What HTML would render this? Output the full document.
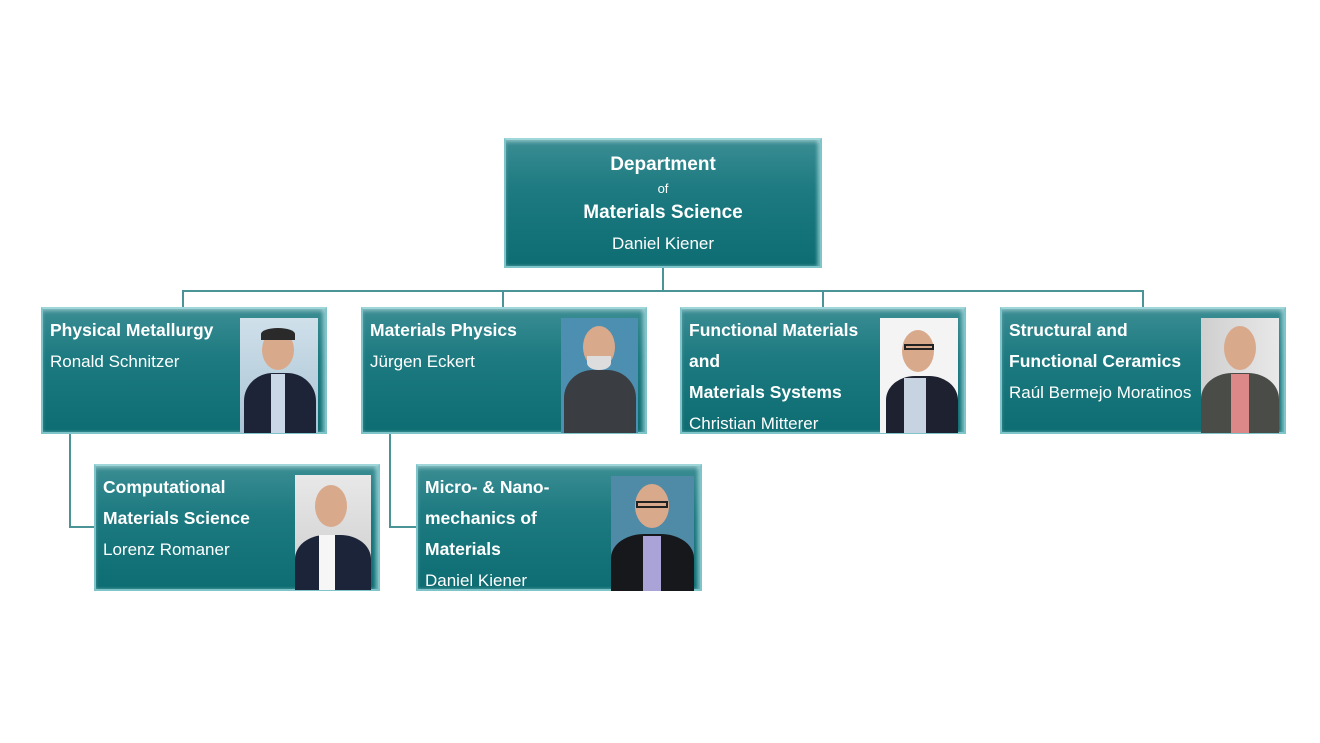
<!DOCTYPE html>
<html><head><meta charset="utf-8"><style>
body{margin:0;width:1320px;height:743px;background:#fff;position:relative;overflow:hidden;font-family:"Liberation Sans",sans-serif;}
.box{position:absolute;background:linear-gradient(180deg,#3a8d93 0%,#1c7a80 40%,#0d6d72 100%);border:2px solid #7fc4c8;border-top-color:#9fd6d9;box-sizing:border-box;box-shadow:inset 0 3px 3px rgba(255,255,255,.25),inset -3px 0 3px rgba(180,230,232,.5);color:#fff;}
.t{position:absolute;left:7px;font-weight:bold;font-size:17.5px;line-height:31px;white-space:nowrap;}
.n{font-weight:normal;font-size:17px;}
.ln{position:absolute;background:#4a9498;}
.ph{position:absolute;overflow:hidden;}
.head{position:absolute;border-radius:50%;background:#d9a98c;}
.body{position:absolute;border-radius:40% 40% 0 0;}
</style></head><body>
<div class="ln" style="left:662px;top:267px;width:2px;height:24px"></div>
<div class="ln" style="left:182px;top:290px;width:962px;height:2px"></div>
<div class="ln" style="left:182px;top:290px;width:2px;height:19px"></div>
<div class="ln" style="left:502px;top:290px;width:2px;height:19px"></div>
<div class="ln" style="left:822px;top:290px;width:2px;height:19px"></div>
<div class="ln" style="left:1142px;top:290px;width:2px;height:19px"></div>
<div class="ln" style="left:69px;top:433px;width:2px;height:95px"></div>
<div class="ln" style="left:69px;top:526px;width:27px;height:2px"></div>
<div class="ln" style="left:389px;top:433px;width:2px;height:95px"></div>
<div class="ln" style="left:389px;top:526px;width:29px;height:2px"></div>

<div class="box" style="left:504px;top:138px;width:318px;height:130px;text-align:center">
 <div style="position:absolute;left:0;right:0;top:14px;font-weight:bold;font-size:19px">Department</div>
 <div style="position:absolute;left:0;right:0;top:41px;font-size:13px">of</div>
 <div style="position:absolute;left:0;right:0;top:62px;font-weight:bold;font-size:19px">Materials Science</div>
 <div style="position:absolute;left:0;right:0;top:94px;font-size:17px">Daniel Kiener</div>
</div>

<div class="box" style="left:41px;top:307px;width:286px;height:127px">
 <div class="t" style="top:6px">Physical Metallurgy<br><span class="n">Ronald Schnitzer</span></div>
 <div class="ph" style="left:197px;top:9px;width:78px;height:115px;background:linear-gradient(#cfe0ea,#a9c3d4)">
  <div class="head" style="left:22px;top:12px;width:32px;height:40px"></div><div style="position:absolute;left:21px;top:10px;width:34px;height:12px;background:#2a2a2a;border-radius:50% 50% 0 0"></div>
  <div class="body" style="left:4px;top:55px;width:72px;height:70px;background:#1d2438"></div><div style="position:absolute;left:31px;top:56px;width:14px;height:60px;background:#c9d7e6"></div></div>
</div>
<div class="box" style="left:361px;top:307px;width:286px;height:127px">
 <div class="t" style="top:6px">Materials Physics<br><span class="n">Jürgen Eckert</span></div>
 <div class="ph" style="left:198px;top:9px;width:77px;height:115px;background:#4d8fb0">
  <div class="head" style="left:22px;top:8px;width:32px;height:42px"></div><div style="position:absolute;left:26px;top:38px;width:24px;height:14px;background:#ddd;border-radius:0 0 50% 50%"></div>
  <div class="body" style="left:3px;top:52px;width:72px;height:70px;background:#3a3d42"></div></div>
</div>
<div class="box" style="left:680px;top:307px;width:286px;height:127px">
 <div class="t" style="top:6px">Functional Materials<br>and<br>Materials Systems<br><span class="n" style="line-height:28px">Christian Mitterer</span></div>
 <div class="ph" style="left:198px;top:9px;width:78px;height:115px;background:#f4f4f4">
  <div class="head" style="left:22px;top:12px;width:32px;height:42px"></div><div style="position:absolute;left:24px;top:26px;width:30px;height:6px;border:2px solid #222;box-sizing:border-box"></div>
  <div class="body" style="left:6px;top:58px;width:72px;height:60px;background:#1e2230"></div><div style="position:absolute;left:24px;top:60px;width:22px;height:56px;background:#c7d3e0"></div></div>
</div>
<div class="box" style="left:1000px;top:307px;width:286px;height:127px">
 <div class="t" style="top:6px">Structural and<br>Functional Ceramics<br><span class="n">Raúl Bermejo Moratinos</span></div>
 <div class="ph" style="left:199px;top:9px;width:78px;height:115px;background:linear-gradient(90deg,#cfcfcf,#e8e8e8)">
  <div class="head" style="left:23px;top:8px;width:32px;height:44px"></div>
  <div class="body" style="left:0;top:55px;width:78px;height:65px;background:#4a4c48"></div><div style="position:absolute;left:30px;top:56px;width:18px;height:60px;background:#d88"></div></div>
</div>

<div class="box" style="left:94px;top:464px;width:286px;height:127px">
 <div class="t" style="top:6px">Computational<br>Materials Science<br><span class="n">Lorenz Romaner</span></div>
 <div class="ph" style="left:199px;top:9px;width:76px;height:115px;background:linear-gradient(#e8e8e8,#ccc)">
  <div class="head" style="left:20px;top:10px;width:32px;height:42px"></div>
  <div class="body" style="left:0;top:60px;width:76px;height:60px;background:#1b2438"></div><div style="position:absolute;left:24px;top:60px;width:16px;height:55px;background:#f6f6f6"></div></div>
</div>
<div class="box" style="left:416px;top:464px;width:286px;height:127px">
 <div class="t" style="top:6px">Micro- &amp; Nano-<br>mechanics of<br>Materials<br><span class="n" style="line-height:28px">Daniel Kiener</span></div>
 <div class="ph" style="left:193px;top:10px;width:83px;height:115px;background:#4f8aa6">
  <div class="head" style="left:24px;top:8px;width:34px;height:44px"></div><div style="position:absolute;left:25px;top:25px;width:32px;height:7px;border:2px solid #222;box-sizing:border-box"></div>
  <div class="body" style="left:0;top:58px;width:83px;height:60px;background:#16181c"></div><div style="position:absolute;left:32px;top:60px;width:18px;height:55px;background:#a9a3d8"></div></div>
</div>
</body></html>
